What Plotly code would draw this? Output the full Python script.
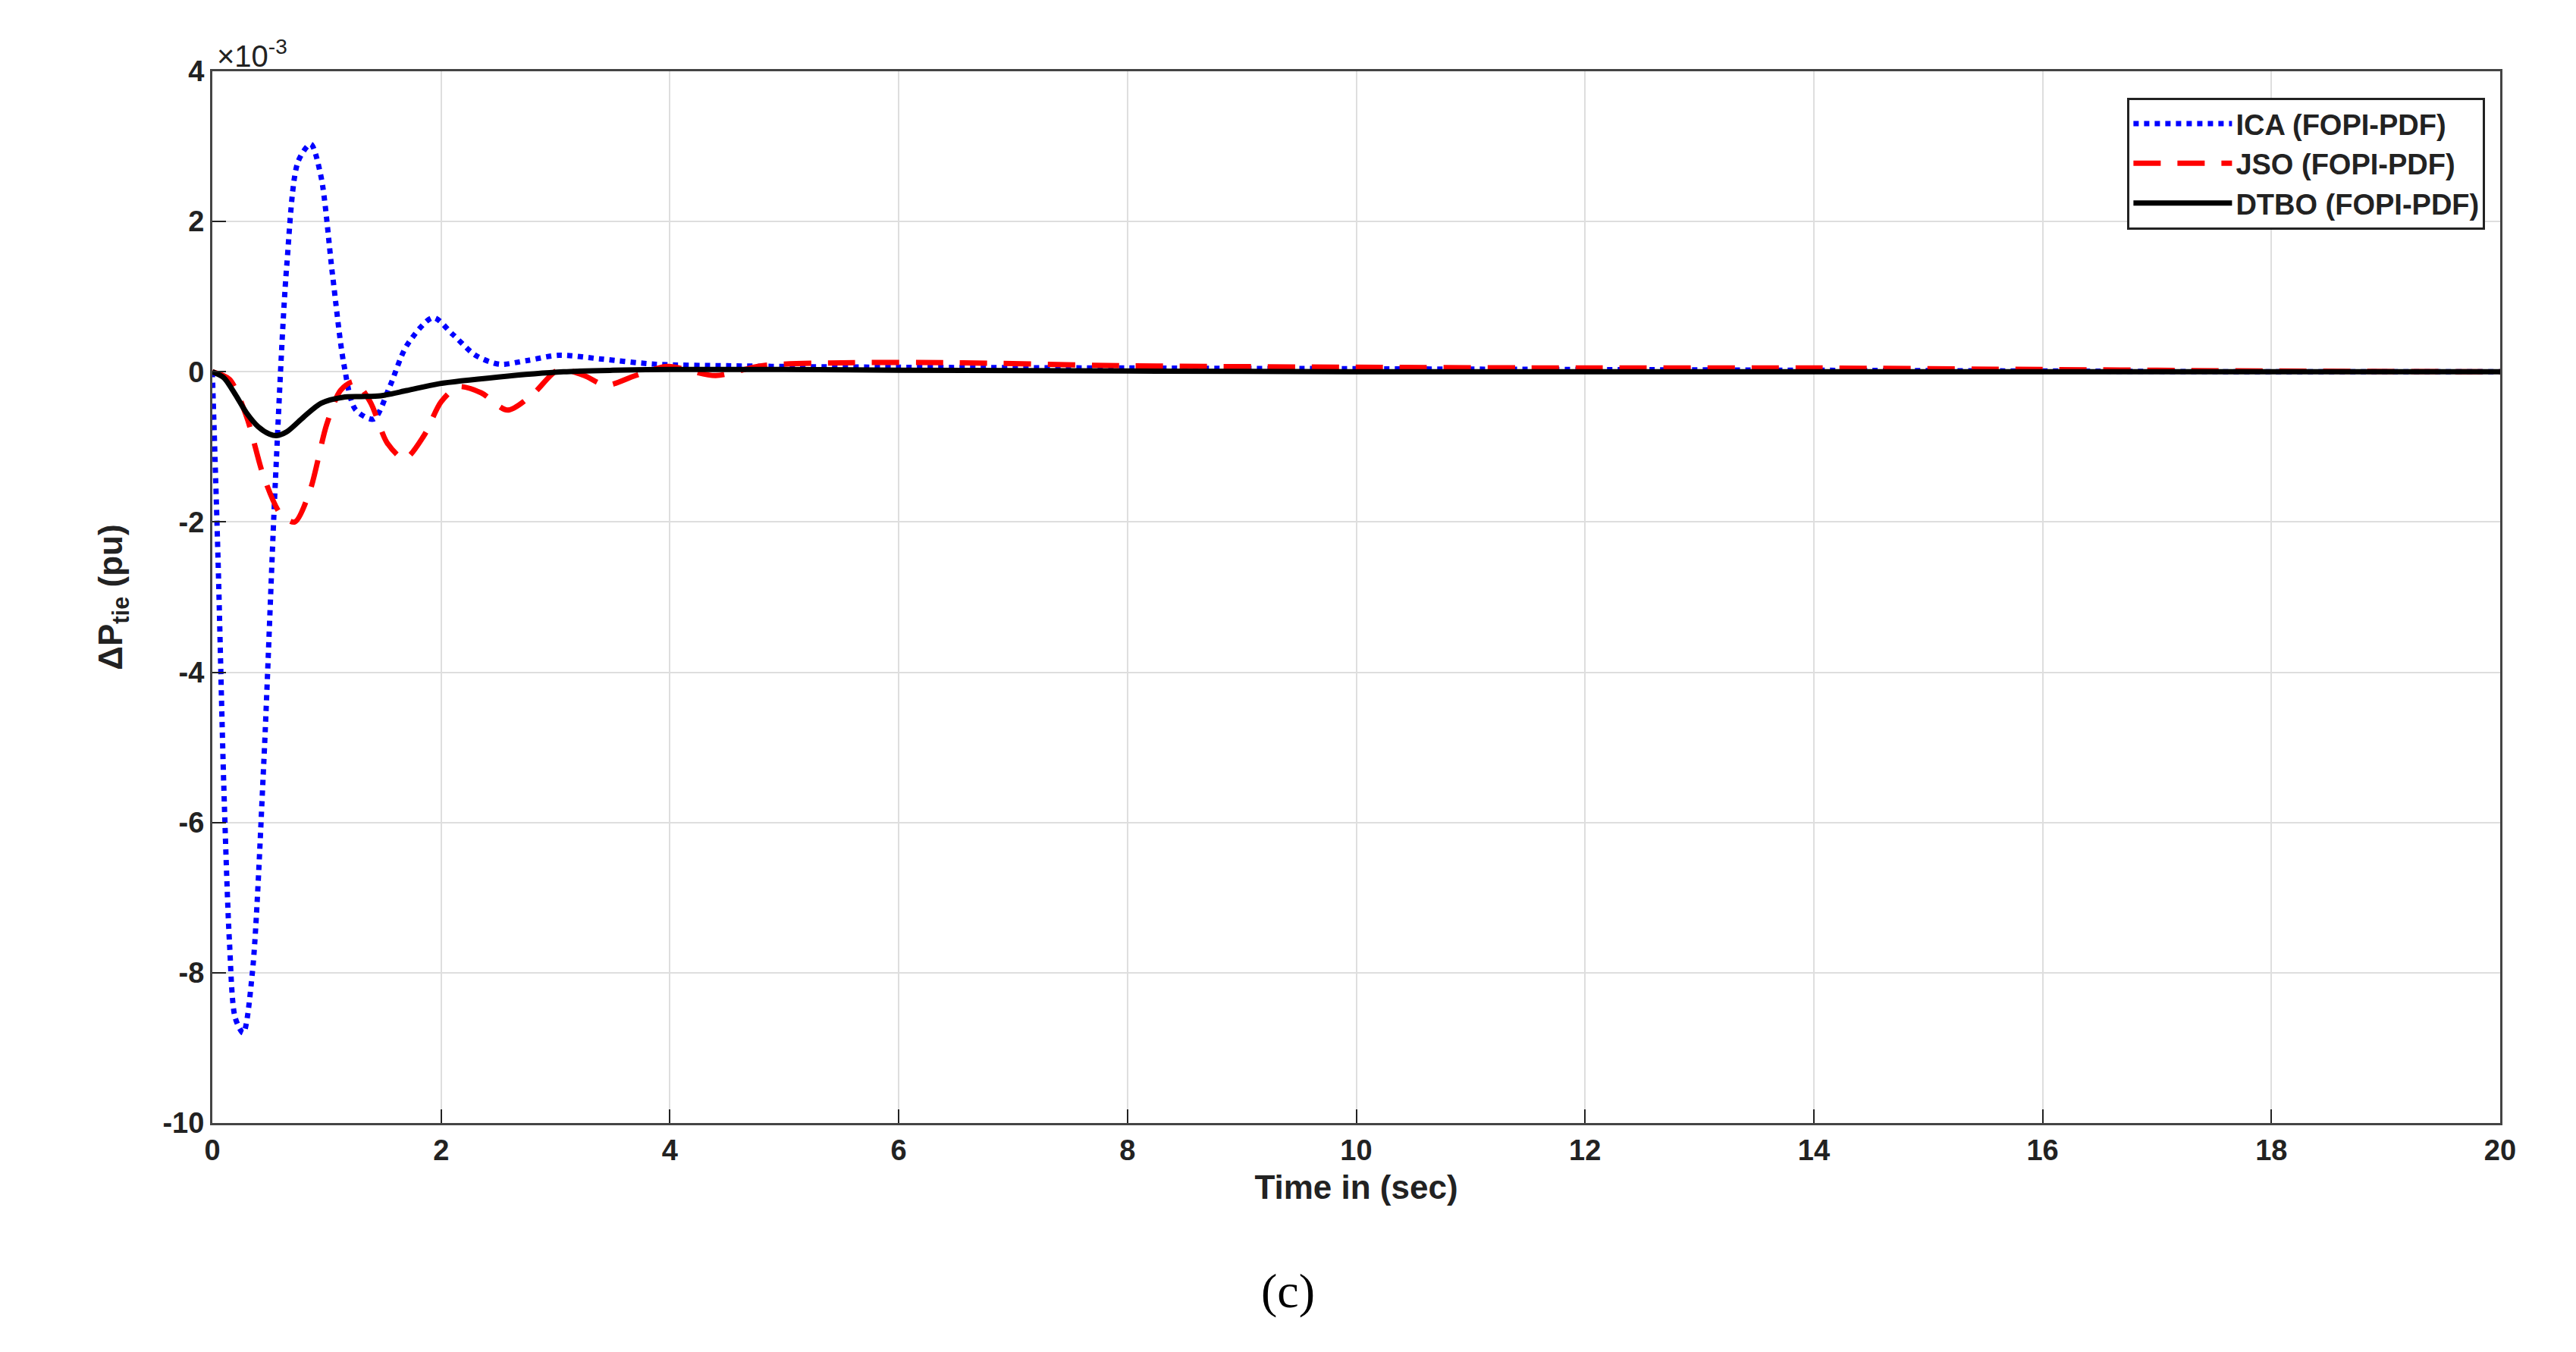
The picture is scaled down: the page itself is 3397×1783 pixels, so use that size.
import plotly.graph_objects as go

ica_t = [0, 0.05, 0.1, 0.15, 0.2, 0.27, 0.35, 0.45, 0.55, 0.65, 0.75, 0.86, 0.95, 1.05, 1.15, 1.25, 1.41, 1.55, 1.7, 1.93, 2.1, 2.3, 2.51, 2.75, 3.03, 3.4, 3.88, 4.5, 5, 6, 8, 10, 12, 14, 16, 18, 20]
ica_v = [0, -2.5, -5.5, -7.6, -8.6, -8.8, -8.0, -5.2, -1.5, 1.4, 2.8, 3.03, 2.6, 1.3, 0.1, -0.5, -0.63, -0.2, 0.35, 0.72, 0.5, 0.22, 0.1, 0.15, 0.22, 0.17, 0.1, 0.08, 0.07, 0.06, 0.05, 0.04, 0.03, 0.02, 0.01, 0.0, 0.0]

jso_t = [0, 0.15, 0.3, 0.45, 0.6, 0.72, 0.85, 1.0, 1.12, 1.24, 1.38, 1.53, 1.68, 1.85, 2.0, 2.15, 2.35, 2.58, 2.8, 3.03, 3.25, 3.44, 3.7, 3.98, 4.4, 4.8, 5.5, 6.5, 8, 10, 12, 14, 16, 18, 20]
jso_v = [0, -0.1, -0.6, -1.4, -1.9, -2.0, -1.6, -0.7, -0.25, -0.13, -0.4, -0.95, -1.16, -0.85, -0.4, -0.2, -0.28, -0.51, -0.3, 0.03, -0.05, -0.18, -0.05, 0.07, -0.05, 0.08, 0.12, 0.12, 0.08, 0.06, 0.05, 0.05, 0.03, 0.01, 0.0]

dtbo_t = [0, 0.1, 0.2, 0.3, 0.4, 0.5, 0.56, 0.65, 0.8, 0.95, 1.14, 1.3, 1.47, 1.7, 1.98, 2.5, 3.07, 3.5, 4, 5, 6, 8, 10, 12, 14, 16, 18, 20]
dtbo_v = [0, -0.08, -0.3, -0.55, -0.73, -0.83, -0.85, -0.8, -0.6, -0.42, -0.34, -0.33, -0.32, -0.25, -0.16, -0.07, 0.0, 0.02, 0.03, 0.03, 0.02, 0.01, 0.0, 0.0, 0.0, 0.0, 0.0, 0.0]

x_ticks = list(range(0, 21, 2))
y_ticks = list(range(-10, 5, 2))

FONT = "Liberation Sans"
fig = go.Figure()
fig.add_trace(go.Scatter(x=ica_t, y=ica_v, mode="lines", name="<b>ICA (FOPI-PDF)</b>",
                         line=dict(color="#0000ff", width=7, dash="dot", shape="spline", smoothing=0.8)))
fig.add_trace(go.Scatter(x=jso_t, y=jso_v, mode="lines", name="<b>JSO (FOPI-PDF)</b>",
                         line=dict(color="#ff0000", width=7, dash="36px,22px", shape="spline", smoothing=0.8)))
fig.add_trace(go.Scatter(x=dtbo_t, y=dtbo_v, mode="lines", name="<b>DTBO (FOPI-PDF)</b>",
                         line=dict(color="#000000", width=7, shape="spline", smoothing=0.8)))

axis_common = dict(showline=True, linecolor="#444", linewidth=3, mirror=True, ticks="inside",
                   ticklen=18, tickwidth=2, tickcolor="#222", showgrid=True, gridcolor="#dedede",
                   gridwidth=2, zeroline=False, tickfont=dict(family=FONT, size=38, color="#222"))
fig.update_xaxes(range=[0, 20], tickvals=x_ticks, ticktext=[f"<b>{v}</b>" for v in x_ticks],
                 title=dict(text="<b>Time in (sec)</b>", font=dict(family=FONT, size=44, color="#222"), standoff=14),
                 **axis_common)
fig.update_yaxes(range=[-10, 4], tickvals=y_ticks, ticktext=[f"<b>{v}</b>" for v in y_ticks],
                 title=dict(text="<b>ΔP<sub>tie</sub> (pu)</b>", font=dict(family=FONT, size=44, color="#222"), standoff=40),
                 **axis_common)
fig.update_layout(
    width=3397, height=1783, paper_bgcolor="white", plot_bgcolor="white",
    margin=dict(l=272, r=108, t=86, b=310),
    legend=dict(x=0.9935, y=0.975, xanchor="right", yanchor="top", bgcolor="white",
                bordercolor="#222", borderwidth=3, font=dict(family=FONT, size=38, color="#222"),
                itemwidth=130, tracegroupgap=0),
    annotations=[
        dict(text="×10<sup>-3</sup>", xref="paper", yref="paper", x=0.0, y=1.0, xanchor="left", yanchor="bottom",
             showarrow=False, font=dict(family=FONT, size=40, color="#222"), xshift=4, yshift=-4),
        dict(text="(c)", xref="paper", yref="paper", x=0.5, y=-0.16, xanchor="center", yanchor="middle",
             showarrow=False, font=dict(family="Liberation Serif", size=64, color="#000"), xshift=-90),
    ],
)
fig.write_html("out.html")
